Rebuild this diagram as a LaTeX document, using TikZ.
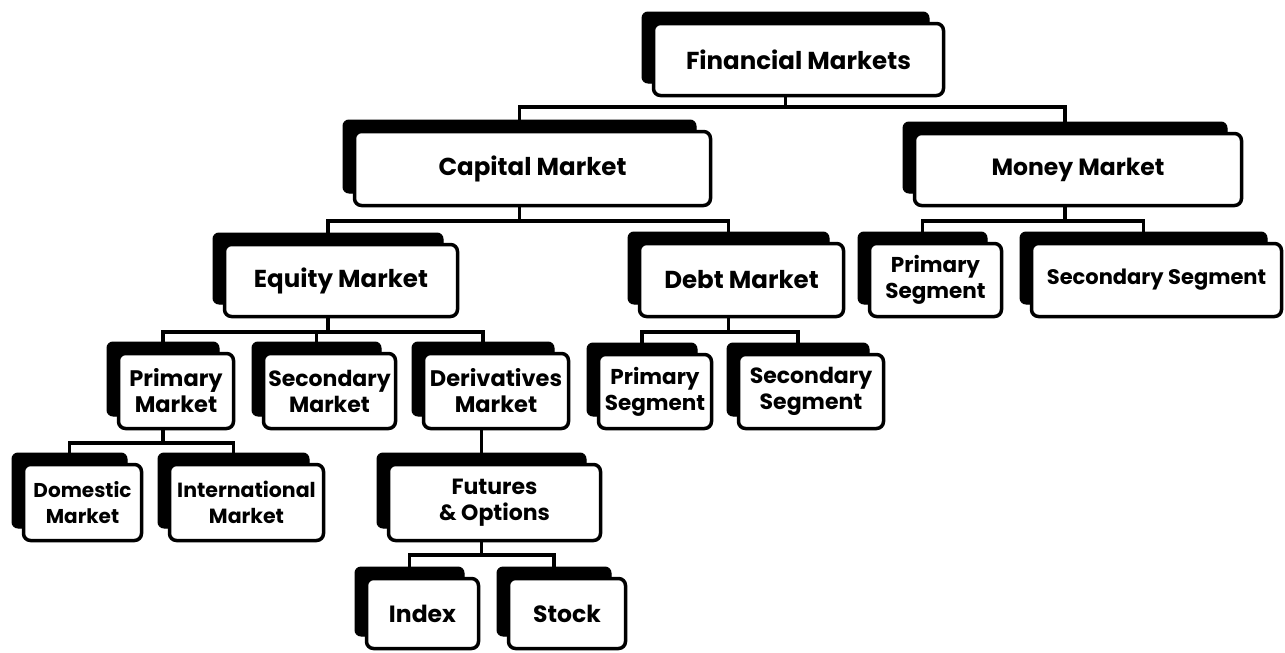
\documentclass[tikz,border=0pt]{standalone}
\usepackage{fontspec}
\setmainfont{Poppins Bold}
\usetikzlibrary{backgrounds}
\newcommand\fs[1]{\fontsize{#1}{26}\selectfont}
\tikzset{
  shadowbox/.style={fill=black, draw=black, line width=1pt, rounded corners=6pt, inner sep=0pt},
  whitebox/.style={fill=white, draw=black, line width=3.5pt, rounded corners=7pt, inner sep=0pt, align=center},
  conn/.style={draw=black, line width=3.5pt}
}
\newcommand\mkbox[7]{%
  \node[shadowbox, minimum width={#4-#2-6}, minimum height={#5-#3-4}] (#1s) at ({(#2+#4)/2-13},{(#3+#5)/2-12}) {};
  \node[whitebox, font=\fs{#7}, minimum width={#4-#2-3}, minimum height={#5-#3-3}] (#1) at ({(#2+#4)/2},{(#3+#5)/2}) {#6};}
\begin{document}
\begin{tikzpicture}[x=1pt,y=-1pt]
\useasboundingbox (0,0) rectangle (1285,653);
\mkbox{fm}{652}{22}{945}{97}{Financial Markets}{24.5}
\mkbox{cm}{353}{130}{712}{207}{Capital Market}{24.5}
\mkbox{mm}{913}{132}{1243}{207}{Money Market}{23.5}
\mkbox{em}{223}{243}{459}{318}{Equity Market}{24.5}
\mkbox{dm}{638}{242}{845}{318}{Debt Market}{24.5}
\mkbox{mps}{868}{242}{1003}{318}{Primary\\Segment}{21.5}
\mkbox{mss}{1030}{242}{1283}{318}{Secondary Segment}{21}
\mkbox{pm}{117}{352}{235}{430}{Primary\\Market}{22.5}
\mkbox{sm}{262}{352}{397}{430}{Secondary\\Market}{22}
\mkbox{der}{422}{352}{570}{430}{Derivatives\\Market}{22.5}
\mkbox{dps}{597}{353}{713}{430}{Primary\\Segment}{21.5}
\mkbox{dss}{737}{353}{885}{430}{Secondary\\Segment}{22}
\mkbox{dom}{22}{463}{143}{542}{Domestic\\Market}{20}
\mkbox{intl}{168}{463}{325}{542}{International\\Market}{20.5}
\mkbox{fo}{387}{463}{602}{542}{Futures\\\& Options}{22}
\mkbox{idx}{365}{577}{480}{650}{Index}{23.5}
\mkbox{stk}{507}{577}{627}{650}{Stock}{23.5}
\coordinate (b1) at (0,107);
\coordinate (b2) at (0,221);
\coordinate (b3) at (0,332);
\coordinate (b4) at (0,443);
\coordinate (b5) at (0,555);
\begin{pgfonlayer}{background}
\fill[white] (0,0) rectangle (1285,653);
\draw[conn] (fms.north |- fm.south) -- (fms.north |- b1) -| (cms.north);
\draw[conn] (fms.north |- b1) -| (mms.north);
\draw[conn] (cms.north |- cm.south) -- (cms.north |- b2) -| (ems.north);
\draw[conn] (cms.north |- b2) -| (dms.north);
\draw[conn] (mms.north |- mm.south) -- (mms.north |- b2) -| (mpss.north);
\draw[conn] (mms.north |- b2) -| (msss.north);
\draw[conn] (ems.north |- em.south) -- (ems.north |- b3) -| (pms.north);
\draw[conn] (ems.north |- b3) -| (sms.north);
\draw[conn] (ems.north |- b3) -| (ders.north);
\draw[conn] (dms.north |- dm.south) -- (dms.north |- b3) -| (dpss.north);
\draw[conn] (dms.north |- b3) -| (dsss.north);
\draw[conn] (pms.north |- pm.south) -- (pms.north |- b4) -| (doms.north);
\draw[conn] (pms.north |- b4) -| (intls.north);
\draw[conn] (fos.north |- der.south) -- (fos.north);
\draw[conn] (fos.north |- fo.south) -- (fos.north |- b5) -| (idxs.north);
\draw[conn] (fos.north |- b5) -| (stks.north);
\end{pgfonlayer}
\end{tikzpicture}
\end{document}
